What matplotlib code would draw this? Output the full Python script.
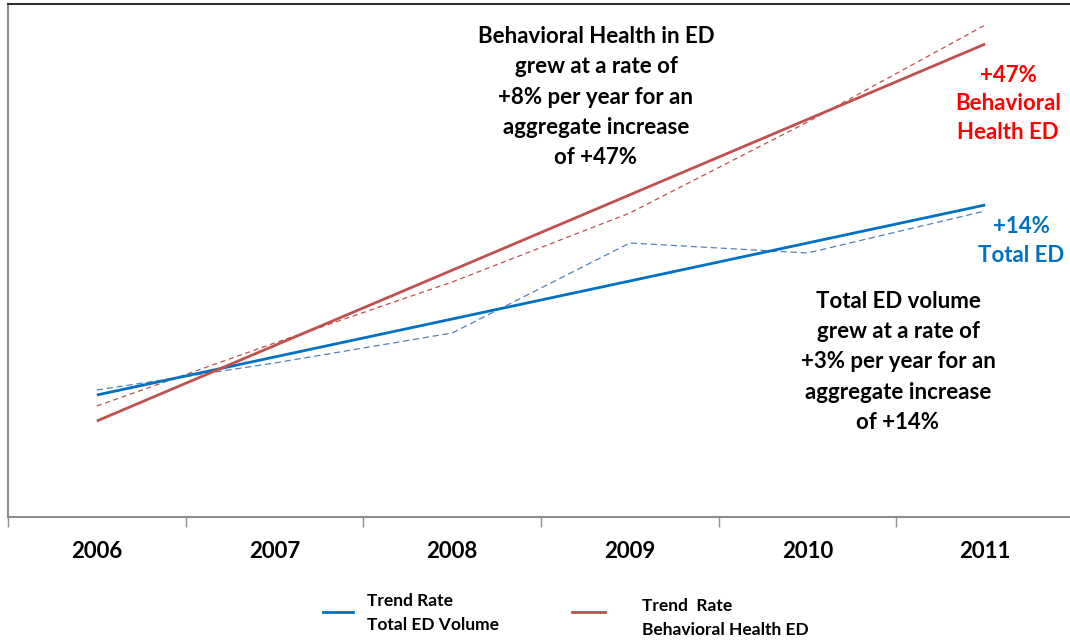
import matplotlib
matplotlib.use("Agg")
import matplotlib.pyplot as plt
from matplotlib.lines import Line2D

plt.rcParams['font.family'] = ['Lato', 'DejaVu Sans']

years = ["2006", "2007", "2008", "2009", "2010", "2011"]
# index values (arbitrary units)
total_ed_actual = [127, 154, 184, 274, 264, 306]
bh_ed_actual = [111, 174, 235, 304, 395, 492]
total_ed_trend = [122, 312]   # 2006 -> 2011
bh_ed_trend = [96, 473]       # 2006 -> 2011

BLUE = "#0070C0"
BLUE_D = "#4F81BD"
RED = "#C0504D"
FW = 'bold'

W, H = 1070, 641
fig = plt.figure(figsize=(W / 100, H / 100), dpi=100)
ax = fig.add_axes([8 / W, 1 - 517 / H, (1074 - 8) / W, (517 - 4) / H])

x = list(range(len(years)))
ax.plot(x, total_ed_actual, color=BLUE_D, lw=0.9, ls=(0, (5, 3)))
ax.plot(x, bh_ed_actual, color=RED, lw=0.9, ls=(0, (4, 3)))
ax.plot([x[0], x[-1]], total_ed_trend, color=BLUE, lw=2.0, solid_capstyle='butt')
ax.plot([x[0], x[-1]], bh_ed_trend, color=RED, lw=2.0, solid_capstyle='butt')

ax.set_xlim(-0.5, 5.5)
ax.set_ylim(0, 513)
ax.set_yticks([])
ax.set_xticks([i - 0.5 for i in range(len(years) + 1)])
ax.set_xticklabels([])
ax.set_xticks(x, minor=True)
ax.set_xticklabels(years, minor=True, fontsize=16, fontweight=FW)
ax.tick_params(axis='x', which='major', length=7, color='#909090', width=1)
ax.tick_params(axis='x', which='minor', length=0, pad=17)
for s in ['left', 'bottom']:
    ax.spines[s].set_color('#8c8c8c')
    ax.spines[s].set_linewidth(1.5)
ax.spines['right'].set_visible(False)
ax.spines['top'].set_color('#303030')
ax.spines['top'].set_linewidth(1.5)

def fx(px):
    return px / W

def fy(py):
    return 1 - py / H

fig.text(fx(596), fy(97), "Behavioral Health in ED\ngrew at a rate of\n+8% per year for an\naggregate increase\nof +47%",
         ha='center', va='center', fontsize=16, fontweight=FW, linespacing=1.53)
fig.text(fx(898), fy(362), "Total ED volume\ngrew at a rate of\n+3% per year for an\naggregate increase\nof +14%",
         ha='center', va='center', fontsize=16, fontweight=FW, linespacing=1.53)
fig.text(fx(1008), fy(104), "+47%\nBehavioral\nHealth ED", ha='center', va='center',
         fontsize=16, fontweight=FW, color='#FF0000', linespacing=1.42)
fig.text(fx(1021), fy(241), "+14%\nTotal ED", ha='center', va='center',
         fontsize=16, fontweight=FW, color=BLUE, linespacing=1.5)

# legend
fig.add_artist(Line2D([fx(323), fx(353)], [fy(612), fy(612)], color=BLUE, lw=2.0))
fig.text(fx(367), fy(613), "Trend Rate\nTotal ED Volume", ha='left', va='center',
         fontsize=12.5, fontweight=FW, linespacing=1.65)
fig.add_artist(Line2D([fx(572), fx(605)], [fy(612), fy(612)], color=RED, lw=2.0))
fig.text(fx(642), fy(618), "Trend  Rate\nBehavioral Health ED", ha='left', va='center',
         fontsize=12.5, fontweight=FW, linespacing=1.65)

fig.savefig("out.png", dpi=100)
